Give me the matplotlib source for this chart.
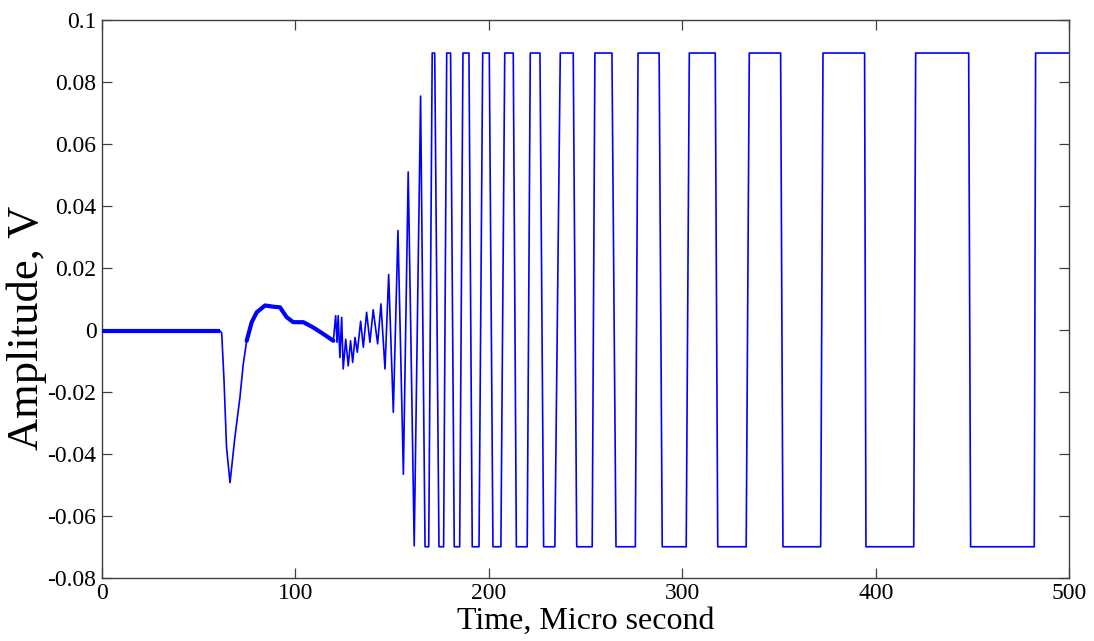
import numpy as np
import matplotlib
matplotlib.use("Agg")
import matplotlib.pyplot as plt

# ---- data ----
# early signal (time in microseconds, amplitude in V)
pre_t = [0, 61.0, 61.9, 63.1, 64.4, 66.2, 68.7, 71.3, 73.0, 74.8, 77.4, 80.0,
         84.3, 88.6, 92.0, 95.5, 98.9, 104.1, 109.2, 114.4, 119.6,
         120.8, 121.5, 122.1, 123.0, 123.9, 124.7, 126.0, 127.3, 128.5, 129.6,
         130.8, 132.0, 133.7, 135.1, 136.8, 138.5, 140.2, 142.5, 144.2, 146.3,
         148.2, 150.6, 153.0, 155.8, 158.3, 161.4, 164.7]
pre_v = [-0.0003, -0.0003, -0.001, -0.0164, -0.038, -0.0493, -0.0347, -0.0219,
         -0.0112, -0.0035, 0.0025, 0.0057, 0.0079, 0.0075, 0.0073, 0.0041,
         0.0025, 0.0025, 0.0008, -0.0013, -0.0035,
         0.0046, -0.004, 0.0046, -0.0089, 0.0041, -0.0126, -0.003, -0.0116,
         -0.0035, -0.0105, -0.0024, -0.0072, 0.0028, -0.0056, 0.0057, -0.0040,
         0.0065, -0.0045, 0.0084, -0.0126, 0.0179, -0.0266, 0.0321, -0.0466,
         0.051, -0.0697, 0.0755]

# clipped square-wave part: plateau start/end times
low_start = [167.0, 174.2, 182.1, 191.4, 202.1, 214.2, 228.3, 245.4, 265.7,
             289.6, 318.3, 352.0, 394.9, 449.0]
low_end = [168.9, 176.6, 184.9, 194.9, 206.2, 219.8, 234.1, 253.4, 275.7,
           302.0, 333.0, 371.5, 419.6, 481.9]
high_start = [170.7, 178.2, 186.6, 196.8, 208.2, 221.4, 236.9, 254.8, 277.1,
              303.6, 334.6, 372.7, 420.6, 482.6]
high_end = [172.0, 180.2, 189.7, 200.2, 212.6, 226.4, 243.6, 263.6, 288.0,
            317.0, 350.8, 394.2, 448.0, 500.0]
high_level = 0.0894
low_level = -0.070

x_ticks = [0, 100, 200, 300, 400, 500]
y_ticks = [-0.08, -0.06, -0.04, -0.02, 0, 0.02, 0.04, 0.06, 0.08, 0.1]
y_tick_labels = ["-0.08", "-0.06", "-0.04", "-0.02", "0", "0.02", "0.04",
                 "0.06", "0.08", "0.1"]

# ---- build the trace ----
t = list(pre_t)
v = list(pre_v)
for ls, le, hs, he in zip(low_start, low_end, high_start, high_end):
    t += [ls, le, hs, he]
    v += [low_level, low_level, high_level, high_level]
t = np.array(t)
v = np.array(v)

plt.rcParams['font.family'] = ['Liberation Serif', 'DejaVu Serif']

fig = plt.figure(figsize=(10.94, 6.41), dpi=100)
ax = fig.add_axes([0.0932, 0.0987, 0.8842, 0.8698])

blue = (0, 0, 1)
ax.plot(t, v, color=blue, lw=1.2, zorder=3)
# noisy (thick) portions of the early trace
noisy1 = t <= 61.0
noisy2 = (t >= 74.8) & (t <= 120.0)
ax.plot(t[noisy1], v[noisy1], color=blue, lw=3.0, solid_capstyle='butt', zorder=3)
ax.plot(t[noisy2], v[noisy2], color=blue, lw=3.0, solid_capstyle='round', zorder=3)

ax.set_xlim(0, 500)
ax.set_ylim(-0.08, 0.1)
ax.set_xticks(x_ticks)
ax.set_xticklabels([str(x) for x in x_ticks])
ax.set_yticks(y_ticks)
ax.set_yticklabels(y_tick_labels)

spine_col = '#404040'
for s in ax.spines.values():
    s.set_color(spine_col)
    s.set_linewidth(1.0)
ax.tick_params(direction='in', length=7.2, width=0.9, colors=spine_col,
               labelcolor='black', labelsize=17, top=True, right=True, pad=4)

ax.set_xlabel("Time, Micro second", fontsize=23, labelpad=2)
ax.set_ylabel("Amplitude, V", fontsize=32)
ax.yaxis.set_label_coords(-0.057, 0.448)

fig.savefig("out.png", dpi=100)
